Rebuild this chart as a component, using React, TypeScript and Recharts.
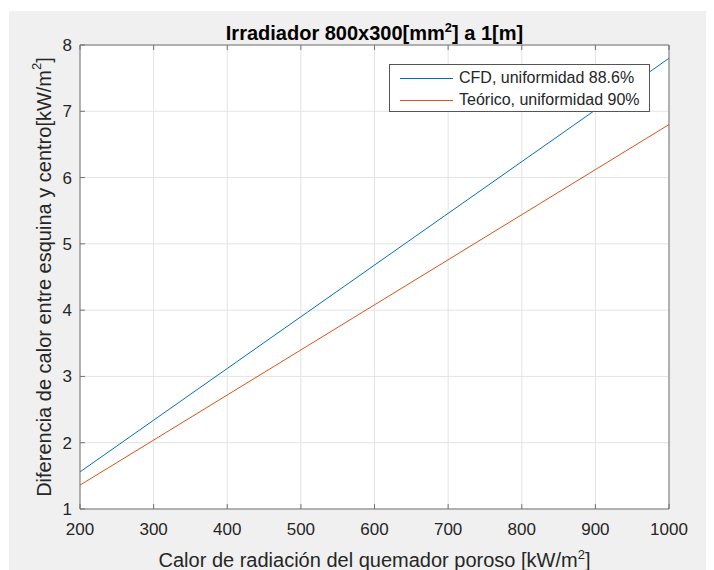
import { LineChart, Line, XAxis, YAxis, CartesianGrid, Legend, Label } from "recharts";

// values (kW/m2)
const heatFlux = [200, 300, 400, 500, 600, 700, 800, 900, 1000];
const cfdDiff = [1.56, 2.34, 3.12, 3.9, 4.68, 5.46, 6.24, 7.02, 7.8];
const theoryDiff = [1.36, 2.04, 2.72, 3.4, 4.08, 4.76, 5.44, 6.12, 6.8];
const xTicks = [200, 300, 400, 500, 600, 700, 800, 900, 1000];
const yTicks = [1, 2, 3, 4, 5, 6, 7, 8];

const seriesNames = ["CFD, uniformidad 88.6%", "Teórico, uniformidad 90%"];
const colors = ["#0072BD", "#D95319"];

const FONT = "'Liberation Sans', Arial, Helvetica, sans-serif";
const AXIS = "#737373";
const TEXT = "#262626";

const W = 705;
const H = 559;
// plot box: x 71..660, y 34..498 (axes take 30 / 10 of these)
const M = { top: 24, right: 35, bottom: 31, left: 41 };

const data = heatFlux.map((x, i) => ({ x, cfd: cfdDiff[i], teo: theoryDiff[i] }));

const BottomTick = ({ x, y, payload }: any) => (
  <g>
    <line x1={x} x2={x} y1={y} y2={y - 5} stroke={AXIS} />
    <text x={x} y={y + 26} textAnchor="middle" fontSize={17} fill={TEXT} fontFamily={FONT}>
      {payload.value}
    </text>
  </g>
);

const TopTick = ({ x, y }: any) => <line x1={x} x2={x} y1={y} y2={y + 5} stroke={AXIS} />;

const LeftTick = ({ x, y, payload }: any) => (
  <g>
    <line x1={x} x2={x + 5} y1={y} y2={y} stroke={AXIS} />
    <text x={x - 8} y={y + 6} textAnchor="end" fontSize={17} fill={TEXT} fontFamily={FONT}>
      {payload.value}
    </text>
  </g>
);

const RightTick = ({ x, y }: any) => <line x1={x} x2={x - 5} y1={y} y2={y} stroke={AXIS} />;

const LegendBox = () => (
  <div
    style={{
      width: 259,
      height: 46,
      background: "#fff",
      border: "1px solid #555",
      fontFamily: FONT,
      fontSize: 16,
      color: TEXT,
      boxSizing: "content-box",
    }}
  >
    {seriesNames.map((n, i) => (
      <div key={n} style={{ display: "flex", alignItems: "center", height: 22, marginTop: i === 0 ? 2 : 0 }}>
        <div style={{ width: 53, height: 1, background: colors[i], marginLeft: 10, marginRight: 6 }} />
        <span>{n}</span>
      </div>
    ))}
  </div>
);

const plotCx = (71 + 660) / 2;
const plotCy = (34 + 498) / 2;

const App = () => (
  <div style={{ width: W, height: H, background: "#f0f0f0", marginLeft: 1, marginTop: 3 }}>
    <LineChart width={W} height={H} data={data} margin={M}>
      <CartesianGrid stroke="#e3e3e3" fill="#ffffff" />
      <XAxis
        dataKey="x"
        type="number"
        domain={[200, 1000]}
        ticks={xTicks}
        height={30}
        tickSize={0}
        tickMargin={0}
        stroke={AXIS}
        tick={<BottomTick />}
        interval={0}
      >
        <Label
          content={() => (
            <text x={plotCx} y={556} textAnchor="middle" fontSize={20} fill={TEXT} fontFamily={FONT}>
              Calor de radiación del quemador poroso [kW/m
              <tspan dy={-8} fontSize={13}>2</tspan>
              <tspan dy={8}>]</tspan>
            </text>
          )}
        />
      </XAxis>
      <XAxis
        xAxisId="top"
        orientation="top"
        dataKey="x"
        type="number"
        domain={[200, 1000]}
        ticks={xTicks}
        height={10}
        tickSize={0}
        tickMargin={0}
        stroke={AXIS}
        tick={<TopTick />}
        interval={0}
      >
        <Label
          content={() => (
            <text x={plotCx} y={29} textAnchor="middle" fontSize={20} fontWeight="bold" fill="#000" fontFamily={FONT}>
              Irradiador 800x300[mm
              <tspan dy={-8} fontSize={13}>2</tspan>
              <tspan dy={8}>] a 1[m]</tspan>
            </text>
          )}
        />
      </XAxis>
      <YAxis
        type="number"
        domain={[1, 8]}
        ticks={yTicks}
        width={30}
        tickSize={0}
        tickMargin={0}
        stroke={AXIS}
        tick={<LeftTick />}
        interval={0}
      >
        <Label
          content={() => (
            <text
              x={37}
              y={plotCy}
              transform={`rotate(-90 37 ${plotCy})`}
              textAnchor="middle"
              dominantBaseline="middle"
              fontSize={20}
              fill={TEXT}
              fontFamily={FONT}
            >
              Diferencia de calor entre esquina y centro[kW/m
              <tspan dy={-8} fontSize={13}>2</tspan>
              <tspan dy={8}>]</tspan>
            </text>
          )}
        />
      </YAxis>
      <YAxis
        yAxisId="right"
        orientation="right"
        type="number"
        domain={[1, 8]}
        ticks={yTicks}
        width={10}
        tickSize={0}
        tickMargin={0}
        stroke={AXIS}
        tick={<RightTick />}
        interval={0}
      />
      <Legend
        layout="horizontal"
        verticalAlign="middle"
        align="center"
        content={<LegendBox />}
        wrapperStyle={{ left: 380, top: 53, width: 261, height: 48 }}
      />
      <Line
        dataKey="cfd"
        name={seriesNames[0]}
        stroke={colors[0]}
        strokeWidth={1}
        dot={false}
        isAnimationActive={false}
      />
      <Line
        dataKey="teo"
        name={seriesNames[1]}
        stroke={colors[1]}
        strokeWidth={1}
        dot={false}
        isAnimationActive={false}
      />
    </LineChart>
  </div>
);

export default App;
